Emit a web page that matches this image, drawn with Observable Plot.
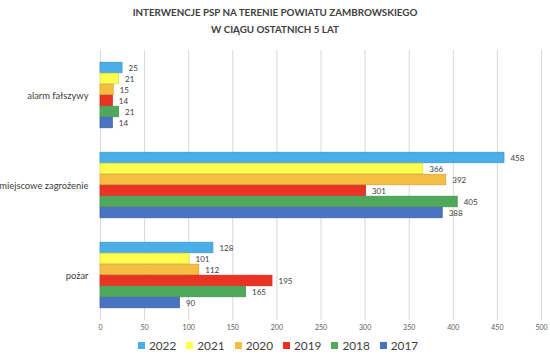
<!DOCTYPE html>
<html><head><meta charset="utf-8">
<script src="https://cdn.jsdelivr.net/npm/d3@7"></script>
<script src="https://cdn.jsdelivr.net/npm/@observablehq/plot@0.6"></script>
<style>
body{margin:0;background:#fff;font-family:Lato,"Open Sans",sans-serif;color:#404040;}
#title{height:42px;box-sizing:border-box;padding-top:4px;text-align:center;font-weight:bold;font-size:9.8px;line-height:17px;color:#404040;overflow:hidden;}
#chart svg{display:block;}
#legend{display:flex;justify-content:center;gap:10px;height:18px;align-items:center;font-size:11.8px;color:#404040;padding-left:6px;}
#legend span.sw{display:inline-block;width:7px;height:7px;margin-right:4px;vertical-align:middle;position:relative;top:-1px;}
</style></head>
<body>
<div id="title">INTERWENCJE PSP NA TERENIE POWIATU ZAMBROWSKIEGO<br>W CIĄGU OSTATNICH 5 LAT</div>
<div id="chart"></div>
<div id="legend"></div>
<script>
const categories = ["alarm fałszywy", "miejscowe zagrożenie", "pożar"];
const years = ["2022", "2021", "2020", "2019", "2018", "2017"];
const v2022 = [25, 458, 128];
const v2021 = [21, 366, 101];
const v2020 = [15, 392, 112];
const v2019 = [14, 301, 195];
const v2018 = [21, 405, 165];
const v2017 = [14, 388, 90];
const xTicks = [0, 50, 100, 150, 200, 250, 300, 350, 400, 450, 500];

const series = [v2022, v2021, v2020, v2019, v2018, v2017];
const colors = ["#4BAEE8", "#FFFF4D", "#F5BE41", "#EA3323", "#4EAA5A", "#4A72C2"];
const data = [];
years.forEach((y, i) => categories.forEach((c, j) => data.push({category: c, year: y, value: series[i][j]})));

const darker = y => d3.color(colors[years.indexOf(y)]).darker(0.4).formatHex();

const chart = Plot.plot({
  width: 550,
  height: 294,
  marginTop: 8,
  marginBottom: 16,
  marginLeft: 100,
  marginRight: 9,
  style: {fontFamily: "Lato, 'Open Sans', sans-serif", color: "#404040"},
  x: {domain: [0, 500], ticks: xTicks, label: null},
  y: {domain: years, axis: null, paddingInner: 0, paddingOuter: 0.8},
  fy: {domain: categories, padding: 0, label: null, axis: null},
  color: {domain: years, range: colors},
  marks: [
    Plot.gridX(xTicks, {stroke: "#d9d9d9", strokeOpacity: 1}),
    Plot.barX(data, {fy: "category", y: "year", x: "value", fill: "year", stroke: d => darker(d.year), strokeWidth: 0.8, insetTop: 0.25, insetBottom: 0.25}),
    Plot.text(data, {fy: "category", y: "year", x: "value", text: d => String(d.value), dx: 6, textAnchor: "start", fontSize: 8, fill: "#404040"}),
    Plot.axisX(xTicks, {tickSize: 0, tickPadding: 5, fontSize: 7, fill: "#595959", label: null, tickFormat: d => String(d)}),
    Plot.axisFy({anchor: "left", tickSize: 0, tickPadding: 12, fontSize: 9.4, fill: "#404040", label: null})
  ]
});
document.getElementById("chart").appendChild(chart);

const legend = document.getElementById("legend");
years.forEach((y, i) => {
  const item = document.createElement("div");
  item.innerHTML = `<span class="sw" style="background:${colors[i]}"></span>${y}`;
  legend.appendChild(item);
});
</script>
</body></html>
